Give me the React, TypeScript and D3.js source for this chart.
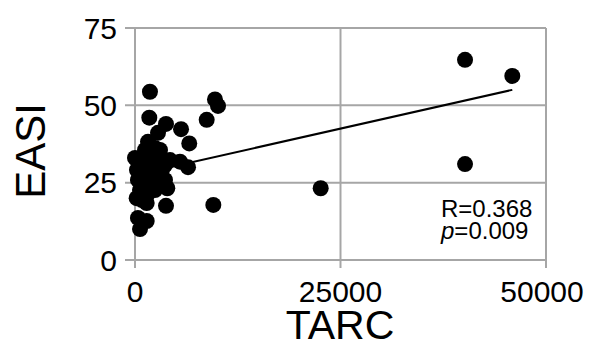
import React from "react";
import * as d3 from "d3";

const tarc: number[] = [
  1820, 9730, 10100, 8720, 1740, 3770, 2800, 5600, 6600, 6450, 5470, 3930, 3770, 9530, 22590, 40150, 45900, 40150,
  240, 240, 360, 610, 1220, 1580, 1820, 2070, 1220, 1820, 2430, 3040, 2800, 970, 1460, 3280, 4260, 2430, 610, 1820, 850, 3040,
  200, 1420, 360, 1420, 610, 0,
  3040, 1220, 2430, 3650, 850, 3650,
];
const easi: number[] = [
  54.4, 51.9, 49.8, 45.3, 46.0, 44.0, 41.1, 42.3, 37.7, 30.0, 31.8, 23.2, 17.5, 17.8, 23.2, 64.7, 59.5, 31.0,
  32.3, 29.1, 25.9, 22.6, 35.6, 38.2, 33.9, 30.7, 28.5, 25.9, 27.5, 32.3, 24.2, 24.2, 21.0, 29.1, 32.3, 36.2, 30.7, 29.1, 19.4, 26.5,
  20.0, 18.4, 13.6, 12.6, 10.0, 33.0,
  35.6, 32.3, 22.6, 25.9, 27.5, 30.7,
];
const trendX: number[] = [0, 45900];
const trendY: number[] = [27.5, 55.0];
const xTicks: number[] = [0, 25000, 50000];
const yTicks: number[] = [0, 25, 50, 75];
const statR = "R=0.368";
const statP = "=0.009";

const FONT = "'Liberation Sans', Arial, Helvetica, sans-serif";

export default function App() {
  const x = d3.scaleLinear().domain([0, 50000]).range([135, 546]);
  const y = d3.scaleLinear().domain([0, 75]).range([260, 28]);
  const grid = "#a6a6a6";
  const line = d3
    .line<[number, number]>()
    .x((d) => x(d[0]))
    .y((d) => y(d[1]));
  const trend: [number, number][] = trendX.map((v, i) => [v, trendY[i]]);
  return (
    <svg
      width={591}
      height={345}
      style={{ position: "absolute", left: 0, top: 0, background: "#fff" }}
      fontFamily={FONT}
    >
      <rect width={591} height={345} fill="#fff" />
      {yTicks.map((t) => (
        <g key={"y" + t}>
          <line x1={125} x2={x(50000)} y1={y(t)} y2={y(t)} stroke={grid} strokeWidth={2} />
          <text x={117} y={y(t)} dy="0.36em" textAnchor="end" fontSize={30} fill="#000">
            {t}
          </text>
        </g>
      ))}
      {xTicks.map((t) => (
        <g key={"x" + t}>
          <line x1={x(t)} x2={x(t)} y1={y(75)} y2={268} stroke={grid} strokeWidth={2} />
          <text x={t === 50000 ? x(t) - 4 : x(t)} y={302} textAnchor="middle" fontSize={30} fill="#000">
            {t}
          </text>
        </g>
      ))}
      <path d={line(trend) || ""} fill="none" stroke="#000" strokeWidth={2} />
      {tarc.map((v, i) => (
        <circle key={i} cx={x(v)} cy={y(easi[i])} r={8} fill="#000" />
      ))}
      <text x={441} y={217} fontSize={24} fill="#000">
        {statR}
      </text>
      <text x={441} y={239} fontSize={24} fill="#000">
        <tspan fontStyle="italic">p</tspan>
        {statP}
      </text>
      <text x={340} y={339} textAnchor="middle" fontSize={41} fill="#000">
        TARC
      </text>
      <text
        transform="translate(45,151) rotate(-90)"
        textAnchor="middle"
        fontSize={42}
        fill="#000"
      >
        EASI
      </text>
    </svg>
  );
}
